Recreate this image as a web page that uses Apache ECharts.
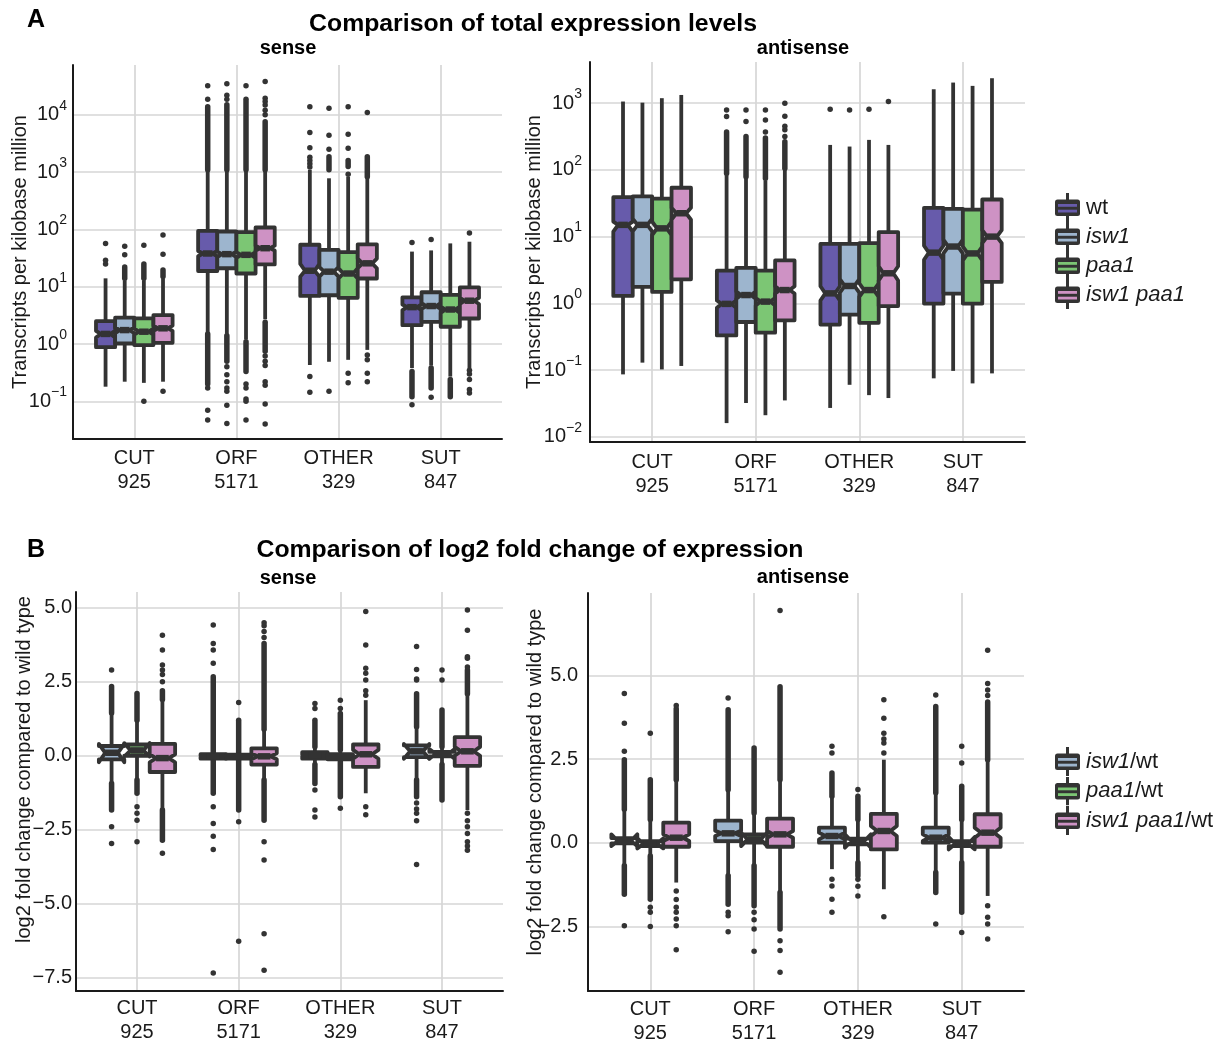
<!DOCTYPE html>
<html><head><meta charset="utf-8">
<script src="https://cdn.jsdelivr.net/npm/echarts@6/dist/echarts.min.js"></script>
<style>html,body{margin:0;padding:0;background:#fff}#chart{width:1223px;height:1045px}</style>
</head><body><div id="chart"></div><script>
// ---------------- data ----------------
const categories = ['CUT', 'ORF', 'OTHER', 'SUT'];
const categoryCounts = ['925', '5171', '329', '847'];
const tpmGenotypes = ['wt', 'isw1', 'paa1', 'isw1 paa1'];
const tpmColors = ['#675BAB', '#9DB5CE', '#7CC674', '#CE92C4'];
const fcGenotypes = ['isw1/wt', 'paa1/wt', 'isw1 paa1/wt'];
const fcColors = ['#9DB5CE', '#7CC674', '#CE92C4'];

// box stats per genotype, per category: [lowWhisker, q1, median, q3, highWhisker, notchLow, notchHigh]
const tpmSenseStats = [
  [[0.18,0.88,1.5,2.5,14,1.3,1.7],[1.6,18.8,38,94,1050,34,42],[0.43,6.9,19,54,1100,15,25],[0.38,2.13,4.4,6.5,41,3.9,4.9]],
  [[0.22,1.02,1.75,2.88,13,1.55,1.95],[1.5,21,37,92,1050,33,41],[0.49,7.1,18.3,44,780,15,22],[0.42,2.44,4.6,8,43,4.1,5.2]],
  [[0.21,0.96,1.64,2.8,13,1.45,1.85],[1.2,17,36,90,1050,32,40],[0.53,6.4,17,40,830,14,21],[0.27,2.0,4.0,7.2,57,3.5,4.5]],
  [[0.22,1.05,1.88,3.2,14,1.7,2.1],[2.7,24.5,47,108,1050,43,52],[0.79,13.9,25.6,55,780,21,31],[0.38,2.79,5.7,9.7,61,5.0,6.4]]
];
const tpmSenseOutliers = [
  [[25,29,57],[32000,18600,0.17,0.07,0.047],[1230,1400,1600,1820,2650,4900,13800,0.27,0.144],[59,0.087]],
  [[36,51],[35000,22000,18600,0.4,0.29,0.22,0.17,0.15,0.085,0.041],[13000,4400,2500,0.15],[67,0.118]],
  [[53,0.1],[32000,0.2,0.17,0.11,0.1,0.047],[13800,4600,2600,920,0.31,0.21],[]],
  [[80,37,0.15],[38000,19500,17000,14800,12000,10000,0.62,0.5,0.42,0.22,0.19,0.09,0.04],[11000,0.64,0.53,0.31,0.22],[87,0.35,0.3,0.24,0.16,0.14]]
];
// ranges densely packed with outlier dots: [from, to]
const tpmSenseDenseOutliers = [
  [[],[[1100,13800],[0.2,1.5]],[],[[0.12,0.33]]],
  [[[14,22]],[[1100,15000],[0.5,1.4]],[[1100,1850]],[[0.17,0.38]]],
  [[[14,25]],[[1100,18600],[0.33,1.1]],[[1250,1600]],[[0.12,0.24]]],
  [[[15,19.5]],[[1100,7600],[0.75,2.4]],[[830,1860]],[]]
];

const tpmAntiStats = [
  [[0.086,1.29,15,39,1060,11.9,16.8],[0.016,0.33,0.98,3.09,88,0.86,1.1],[0.027,0.48,1.41,7.76,237,1.1,1.8],[0.075,0.99,5.75,27,1620,4.5,7.3]],
  [[0.129,1.76,15,40,1020,12,18.5],[0.032,0.525,1.33,3.39,75,1.17,1.5],[0.06,0.676,1.82,7.76,224,1.45,2.3],[0.097,1.4,7.1,26,2040,5.6,9]],
  [[0.102,1.48,13.3,37,1190,10.5,16.8],[0.021,0.363,1.06,3.09,70,0.93,1.2],[0.042,0.51,1.58,8.0,282,1.25,2.0],[0.063,0.99,5.6,25.4,1820,4.4,7.1]],
  [[0.115,2.29,22.4,54,1330,18,27],[0.035,0.556,1.58,4.4,100,1.4,1.8],[0.038,0.91,2.82,11.7,237,2.2,3.6],[0.089,2.09,10,36,2370,8,12.5]]
];
const tpmAntiOutliers = [
  [[],[630,794],[813],[]],
  [[],[530,794],[794],[]],
  [[],[370,562,794],[813],[]],
  [[],[316,400,450,640,1000],[1060],[]]
];
const tpmAntiDenseOutliers = [
  [[],[[89,370]],[],[]],
  [[],[[79,316]],[],[]],
  [[],[[75,300]],[],[]],
  [[],[[106,265]],[],[]]
];

const fcSenseStats = [
  [[-0.9,-0.12,0.1,0.33,1.45,-0.22,0.40],[-0.15,-0.1,-0.02,0.05,0.1,-0.04,0.0],[-0.3,-0.1,0.0,0.12,0.3,-0.03,0.03],[-0.8,-0.05,0.15,0.35,0.95,-0.1,0.4]],
  [[-0.82,0.0,0.18,0.38,1.2,-0.03,0.43],[-0.15,-0.1,-0.03,0.04,0.1,-0.05,-0.01],[-0.2,-0.12,-0.05,0.05,0.2,-0.07,-0.03],[-0.3,-0.02,0.06,0.13,0.3,-0.1,0.23]],
  [[-1.84,-0.55,-0.08,0.40,1.9,-0.22,0.05],[-0.82,-0.3,-0.02,0.25,0.9,-0.12,0.08],[-1.27,-0.38,0.05,0.38,1.88,-0.1,0.2],[-1.84,-0.34,0.15,0.63,2.1,0.0,0.3]]
];
const fcSenseOutliers = [
  [[2.9,-2.4,-2.97],[3.13,3.58,3.8,4.42,-1.73,-2.29,-2.72,-3.17,-7.35],[1.6,1.77,-1.16,-1.84,-2.07],[3.7,2.92,2.6,2.56,-1.6,-1.8,-1.95,-2.2,-3.68]],
  [[-1.73,-1.95,-2.18,-2.91],[1.8,-2.23,-6.28],[1.6,1.88,-1.78],[2.56,2.9]],
  [[4.08,3.58,3.07,2.9,2.75,2.5,-3.3],[4.0,4.2,4.4,4.5,-2.91,-3.53,-6.02,-7.26],[4.88,3.75,2.96,2.79,2.56,2.2,2.05,-1.73,-2.0],[4.93,4.25,3.35,3.3,3.0,-1.95,-2.2,-2.4,-2.63,-2.91,-3.05,-3.2]]
];
const fcSenseDenseOutliers = [
  [[[1.45,2.34],[-1.84,-0.94]],[[0.1,2.67],[-1.27,-0.15]],[[0.3,1.2],[-0.94,-0.3]],[[0.98,2.1],[-1.39,-0.82]]],
  [[[1.2,2.11],[-1.27,-0.82]],[[0.1,1.2],[-1.84,-0.15]],[[0.2,1.43],[-1.39,-0.2]],[[0.3,1.55],[-1.5,-0.3]]],
  [[[1.9,2.2],[-2.86,-1.84]],[[0.9,3.8],[-2.18,-0.82]],[],[[2.1,2.9]]]
];

const fcAntiStats = [
  [[-0.69,-0.02,0.05,0.14,1.0,-0.10,0.25],[-0.99,0.05,0.28,0.66,1.58,0.2,0.36],[-0.79,0.0,0.2,0.45,1.39,0.1,0.3],[-0.89,0.0,0.15,0.45,1.49,0.05,0.25]],
  [[-0.4,-0.1,-0.03,0.05,0.69,-0.17,0.13],[-0.69,0.0,0.1,0.25,0.89,-0.1,0.30],[-0.6,-0.05,0.05,0.12,0.69,-0.15,0.25],[-0.6,-0.1,-0.03,0.05,0.69,-0.2,0.17]],
  [[-1.19,-0.12,0.15,0.6,1.88,0.05,0.25],[-1.49,-0.12,0.25,0.72,1.88,0.15,0.35],[-1.39,-0.2,0.35,0.86,2.48,0.2,0.5],[-1.59,-0.12,0.3,0.85,2.48,0.15,0.45]]
];
const fcAntiOutliers = [
  [[2.73,3.57,4.46,-2.48],[4.32,-2.08,-2.18,-2.66],[2.68,2.88,-1.09,-1.29,-1.69,-2.08],[4.41,-2.43]],
  [[3.27,-1.93,-2.08,-2.5],[-2.08,-2.3,-2.58,-3.24],[1.59,-1.09,-1.3,-1.59],[2.38,2.88,-2.68]],
  [[4.1,-1.44,-1.7,-1.93,-2.08,-2.28,-2.48,-3.2],[6.94,-2.93,-3.22,-3.87],[4.27,3.72,3.27,3.1,2.98,2.68,-2.21],[5.75,4.76,4.56,4.4,-1.88,-2.23,-2.43,-2.88]]
];
const fcAntiDenseOutliers = [
  [[[1.0,2.48],[-1.54,-0.69]],[[1.58,3.97],[-1.84,-0.99]],[[1.39,2.08]],[[1.49,4.07],[-1.49,-0.89]]],
  [[[0.69,1.88],[-1.69,-0.4]],[[0.89,2.83],[-1.88,-0.69]],[[0.69,1.39],[-0.99,-0.6]],[[0.69,1.69],[-2.08,-0.6]]],
  [[[1.88,4.0]],[[1.88,4.66],[-2.58,-1.49]],[],[[2.48,4.2]]]
];

// ---------------- styling ----------------
const DARK = '#333333';
const TXT = '#1a1a1a';
const GRIDC = '#D6D6D6';
const FONT = '"Liberation Sans", Arial, Helvetica, sans-serif';
const LW = 3.8;

function boxRenderer(off, w, color) {
  return function (params, api) {
    const xc = api.value(0) + off;
    const low = api.value(1), q1 = api.value(2), med = api.value(3), q3 = api.value(4), high = api.value(5);
    const nlo = api.value(6), nhi = api.value(7);
    const xa = xc - w / 2, xb = xc + w / 2, xia = xc - w / 4, xib = xc + w / 4;
    const P = (x, y) => api.coord([x, y]);
    const pts = [P(xa, q3), P(xa, nhi), P(xia, med), P(xa, nlo), P(xa, q1), P(xb, q1), P(xb, nlo), P(xib, med), P(xb, nhi), P(xb, q3)];
    const pH = P(xc, high), pQ3 = P(xc, q3), pQ1 = P(xc, q1), pL = P(xc, low);
    const m1 = P(xia, med), m2 = P(xib, med);
    return { type: 'group', children: [
      { type: 'line', shape: { x1: pH[0], y1: pH[1], x2: pQ3[0], y2: pQ3[1] }, style: { stroke: DARK, lineWidth: LW } },
      { type: 'line', shape: { x1: pL[0], y1: pL[1], x2: pQ1[0], y2: pQ1[1] }, style: { stroke: DARK, lineWidth: LW } },
      { type: 'polygon', shape: { points: pts }, style: { fill: color, stroke: DARK, lineWidth: LW, lineJoin: 'round' } },
      { type: 'line', shape: { x1: m1[0], y1: m1[1], x2: m2[0], y2: m2[1] }, style: { stroke: DARK, lineWidth: LW * 1.7 } }
    ] };
  };
}
function denseRenderer(off) {
  return function (params, api) {
    const xc = api.value(0) + off;
    const a = api.coord([xc, api.value(1)]), b = api.coord([xc, api.value(2)]);
    return { type: 'line', shape: { x1: a[0], y1: a[1], x2: b[0], y2: b[1] }, style: { stroke: DARK, lineWidth: 5.5, lineCap: 'round' } };
  };
}

const panelSpecs = [
  { stats: tpmSenseStats, out: tpmSenseOutliers, dense: tpmSenseDenseOutliers, names: tpmGenotypes, colors: tpmColors },
  { stats: tpmAntiStats, out: tpmAntiOutliers, dense: tpmAntiDenseOutliers, names: tpmGenotypes, colors: tpmColors },
  { stats: fcSenseStats, out: fcSenseOutliers, dense: fcSenseDenseOutliers, names: fcGenotypes, colors: fcColors },
  { stats: fcAntiStats, out: fcAntiOutliers, dense: fcAntiDenseOutliers, names: fcGenotypes, colors: fcColors }
];

const series = [];
panelSpecs.forEach((p, pi) => {
  const G = p.names.length, w = 0.75 / G;
  p.names.forEach((name, gi) => {
    const off = -0.375 + w * (gi + 0.5);
    const outData = [];
    p.out[gi].forEach((vals, ci) => vals.forEach(v => outData.push([ci + 1 + off, v])));
    const denseData = [];
    p.dense[gi].forEach((bands, ci) => bands.forEach(b => denseData.push([ci + 1, b[0], b[1]])));
    series.push({ type: 'scatter', name, xAxisIndex: pi, yAxisIndex: pi, data: outData, symbolSize: 5.5,
      itemStyle: { color: DARK, opacity: 1 }, silent: true, z: 2 });
    series.push({ type: 'custom', name, xAxisIndex: pi, yAxisIndex: pi, data: denseData, renderItem: denseRenderer(off),
      encode: { x: 0, y: [1, 2] }, silent: true, z: 2 });
    series.push({ type: 'custom', name, xAxisIndex: pi, yAxisIndex: pi,
      data: p.stats[gi].map((s, ci) => [ci + 1].concat(s)), renderItem: boxRenderer(off, w, p.colors[gi]),
      encode: { x: 0, y: [1, 2, 3, 4, 5] }, silent: true, z: 3 });
  });
});

const grids = [
  { left: 73, top: 65, width: 429, height: 374 },
  { left: 590, top: 62, width: 435, height: 380 },
  { left: 76, top: 592, width: 427, height: 399 },
  { left: 588, top: 593, width: 436, height: 399 }
];
const xLabelMargins = [7, 8, 5, 6];

const xAxes = grids.map((g, i) => ({
  type: 'value', gridIndex: i, min: 0.4, max: 4.6, minInterval: 1, maxInterval: 1,
  axisLine: { show: true, onZero: false, lineStyle: { color: TXT, width: 2 } },
  axisTick: { show: false },
  axisLabel: { margin: xLabelMargins[i], fontSize: 20, lineHeight: 24, color: TXT, fontFamily: FONT,
    formatter: v => { const k = Math.round(v); return (Math.abs(v - k) < 1e-6 && k >= 1 && k <= 4) ? categories[k - 1] + '\n' + categoryCounts[k - 1] : ''; } },
  splitLine: { show: true, showMinLine: false, showMaxLine: false, lineStyle: { color: GRIDC, width: 1.7 } }
}));

function logLabel(v) {
  const l = Math.log10(v), e = Math.round(l);
  if (Math.abs(l - e) > 1e-6) return '';
  return '{b|10}{s|' + (e < 0 ? '\u2212' : '') + Math.abs(e) + '}';
}
function fcLabel(v) {
  const k = v / 2.5;
  if (Math.abs(k - Math.round(k)) > 1e-6) return '';
  const s = Math.abs(v).toFixed(1);
  return (v < -1e-9 ? '\u2212' : '') + s;
}
const logRich = {
  b: { fontSize: 20, lineHeight: 32, color: TXT, fontFamily: FONT },
  s: { fontSize: 14, lineHeight: 14, verticalAlign: 'top', color: TXT, fontFamily: FONT }
};
const yCommon = {
  axisLine: { show: true, onZero: false, lineStyle: { color: TXT, width: 2 } },
  axisTick: { show: false },
  splitLine: { show: true, showMinLine: false, showMaxLine: false, lineStyle: { color: GRIDC, width: 1.7 } },
  nameLocation: 'middle',
  nameMoveOverlap: false
};
const yAxes = [
  Object.assign({}, yCommon, { type: 'log', logBase: 10, gridIndex: 0, min: 0.022, max: 74000,
    axisLabel: { margin: 6, formatter: logLabel, rich: logRich },
    name: 'Transcripts per kilobase million', nameGap: 43, nameTextStyle: { fontSize: 20, color: TXT, fontFamily: FONT } }),
  Object.assign({}, yCommon, { type: 'log', logBase: 10, gridIndex: 1, min: 0.00833, max: 4150,
    axisLabel: { margin: 8, formatter: logLabel, rich: logRich },
    name: 'Transcripts per kilobase million', nameGap: 46, nameTextStyle: { fontSize: 20, color: TXT, fontFamily: FONT } }),
  Object.assign({}, yCommon, { type: 'value', gridIndex: 2, min: -7.96, max: 5.54, minInterval: 2.5, maxInterval: 2.5,
    axisLabel: { margin: 4, fontSize: 20, color: TXT, fontFamily: FONT, formatter: fcLabel },
    name: 'log2 fold change compared to wild type', nameGap: 42,
    nameTextStyle: { fontSize: 20, color: TXT, fontFamily: FONT, padding: [0, 0, 0, 44] } }),
  Object.assign({}, yCommon, { type: 'value', gridIndex: 3, min: -4.43, max: 7.46, minInterval: 2.5, maxInterval: 2.5,
    axisLabel: { margin: 10, fontSize: 20, color: TXT, fontFamily: FONT, formatter: fcLabel },
    name: 'log2 fold change compared to wild type', nameGap: 43,
    nameTextStyle: { fontSize: 20, color: TXT, fontFamily: FONT, padding: [0, 0, 0, 20] } })
];

function keyIcon(color) {
  const svg = '<svg xmlns="http://www.w3.org/2000/svg" width="27" height="29" viewBox="0 0 27 29">' +
    '<line x1="13.5" y1="0" x2="13.5" y2="29" stroke="#333" stroke-width="3"/>' +
    '<rect x="1" y="6.5" width="25" height="16.5" rx="2.5" fill="#333"/>' +
    '<rect x="4" y="11" width="19" height="2.8" fill="' + color + '"/>' +
    '<rect x="4" y="16.7" width="19" height="2.8" fill="' + color + '"/></svg>';
  return 'image://data:image/svg+xml;charset=utf-8,' + encodeURIComponent(svg);
}
const legendRich = {
  i: { fontSize: 22, fontStyle: 'italic', color: TXT, fontFamily: FONT },
  n: { fontSize: 22, color: TXT, fontFamily: FONT }
};

const titleStyle = (size) => ({ fontSize: size, fontWeight: 'bold', color: '#000', fontFamily: FONT });
const option = {
  animation: false,
  textStyle: { fontFamily: FONT },
  title: [
    { text: 'A', left: 27, top: 8, padding: 0, textStyle: titleStyle(25) },
    { text: 'Comparison of total expression levels', left: 533, top: 12, textAlign: 'center', padding: 0, textStyle: titleStyle(24.8) },
    { text: 'sense', left: 288, top: 38, textAlign: 'center', padding: 0, textStyle: titleStyle(20) },
    { text: 'antisense', left: 803, top: 38, textAlign: 'center', padding: 0, textStyle: titleStyle(20) },
    { text: 'B', left: 27, top: 538, padding: 0, textStyle: titleStyle(25) },
    { text: 'Comparison of log2 fold change of expression', left: 530, top: 538, textAlign: 'center', padding: 0, textStyle: titleStyle(24.8) },
    { text: 'sense', left: 288, top: 568, textAlign: 'center', padding: 0, textStyle: titleStyle(20) },
    { text: 'antisense', left: 803, top: 567, textAlign: 'center', padding: 0, textStyle: titleStyle(20) }
  ],
  legend: [
    { data: tpmGenotypes.map((n, i) => ({ name: n, icon: keyIcon(tpmColors[i]) })), orient: 'vertical',
      left: 1054, top: 193, itemWidth: 27, itemHeight: 29, itemGap: 0, selectedMode: false, padding: 0,
      formatter: n => n === 'wt' ? '{n|wt}' : '{i|' + n + '}', textStyle: { rich: legendRich, fontSize: 22 } },
    { data: fcGenotypes.map((n, i) => ({ name: n, icon: keyIcon(fcColors[i]) })), orient: 'vertical',
      left: 1054, top: 747, itemWidth: 27, itemHeight: 29, itemGap: 0.5, selectedMode: false, padding: 0,
      formatter: n => { const k = n.lastIndexOf('/'); return '{i|' + n.slice(0, k) + '}{n|' + n.slice(k) + '}'; },
      textStyle: { rich: legendRich, fontSize: 22 } }
  ],
  grid: grids,
  xAxis: xAxes,
  yAxis: yAxes,
  series: series
};

const chart = echarts.init(document.getElementById('chart'), null, { renderer: 'canvas' });
chart.setOption(option);
</script></body></html>
